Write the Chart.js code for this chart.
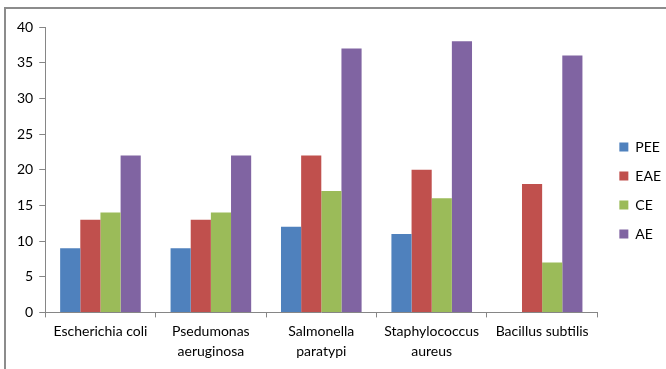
<!DOCTYPE html>
<html lang="en">
<head>
  <meta charset="UTF-8" />
  <title>Antibacterial activity</title>
  <script src="https://cdn.jsdelivr.net/npm/chart.js"></script>
  <style>
    body { margin: 0; background: #fff; overflow: hidden; }
    .frame {
      position: absolute; left: 4px; top: 7px;
      width: 720px; height: 420px;
      border: 2px solid #8c8c8c;
    }
    .wrap { position: absolute; left: 0; top: 0; width: 666px; height: 369px; }
  </style>
</head>
<body>
  <div class="frame"></div>
  <div class="wrap"><canvas id="chart" width="666" height="369"></canvas></div>

  <script>
    const categories = [
      ["Escherichia coli"],
      ["Psedumonas", "aeruginosa"],
      ["Salmonella", "paratypi"],
      ["Staphylococcus", "aureus"],
      ["Bacillus subtilis"]
    ];
    const pee = [9, 9, 12, 11, 0];
    const eae = [13, 13, 22, 20, 18];
    const ce  = [14, 14, 17, 16, 7];
    const ae  = [22, 22, 37, 38, 36];
    const yTicks = [0, 5, 10, 15, 20, 25, 30, 35, 40];

    const font = { family: "Lato, 'Open Sans', sans-serif", size: 14 };
    const axisColor = "#868686";

    // nudge the legend a little right and up, like the original
    const legendNudge = {
      id: "legendNudge",
      afterLayout(chart) {
        const lg = chart.legend;
        lg.left += 7; lg.right += 7;
        lg.top -= 6; lg.bottom -= 6;
      }
    };

    new Chart(document.getElementById("chart"), {
      type: "bar",
      data: {
        labels: categories,
        datasets: [
          { label: "PEE", data: pee, backgroundColor: "#4f81bd" },
          { label: "EAE", data: eae, backgroundColor: "#c0504d" },
          { label: "CE",  data: ce,  backgroundColor: "#9bbb59" },
          { label: "AE",  data: ae,  backgroundColor: "#8064a2" }
        ]
      },
      plugins: [legendNudge],
      options: {
        responsive: false,
        animation: false,
        devicePixelRatio: 1,
        layout: { padding: { top: 27, left: 11, right: 2, bottom: 3 } },
        datasets: { bar: { barPercentage: 1.0, categoryPercentage: 0.73 } },
        plugins: {
          tooltip: { enabled: false },
          legend: {
            position: "right",
            labels: {
              font: font, color: "#000",
              boxWidth: 9, boxHeight: 9, padding: 15
            }
          }
        },
        scales: {
          x: {
            ticks: { font: { ...font, lineHeight: 1.45 }, color: "#000", maxRotation: 0, padding: 4 },
            grid: { display: true, drawOnChartArea: false, tickLength: 5, color: axisColor, offset: true },
            border: { color: axisColor, width: 1 }
          },
          y: {
            min: 0, max: 40,
            afterBuildTicks: axis => { axis.ticks = yTicks.map(v => ({ value: v })); },
            ticks: { font: font, color: "#000", padding: 6 },
            grid: { display: true, drawOnChartArea: false, tickLength: 6, color: axisColor },
            border: { color: axisColor, width: 1 }
          }
        }
      }
    });
  </script>
</body>
</html>
